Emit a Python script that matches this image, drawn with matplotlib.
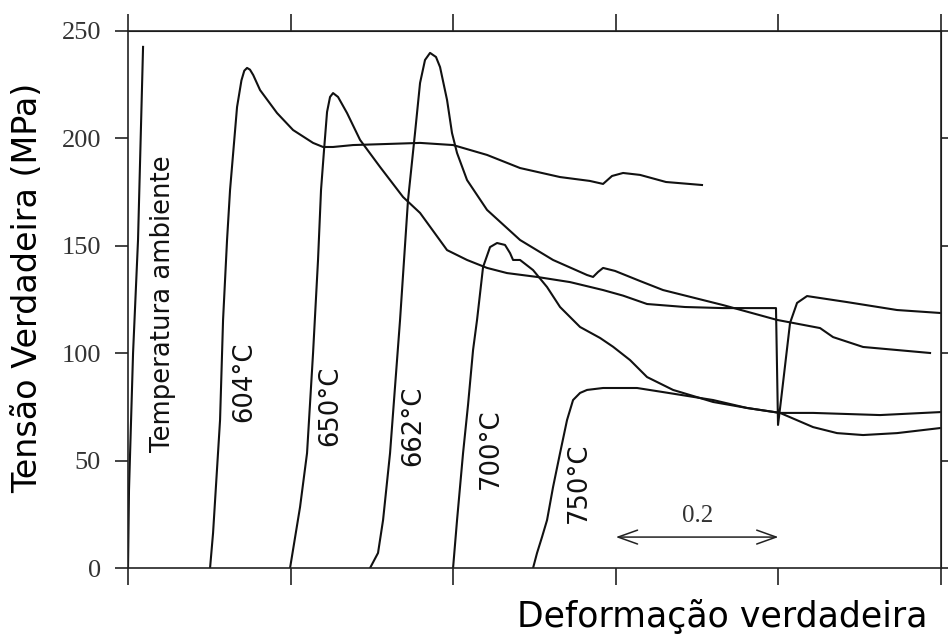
import matplotlib
matplotlib.use('Agg')
import matplotlib.pyplot as plt

# Curvas tensão-deformação (deformação deslocada para cada temperatura)
amb_def = [0.0, 0.0012, 0.0062, 0.0123, 0.0185]
amb_ten = [0.0, 36.3, 100.1, 152.7, 242.6]

t604_def = [0.1009, 0.1046, 0.1132, 0.1169, 0.1218, 0.1255, 0.1341, 0.1395, 0.1430, 0.1464,
            0.1500, 0.1540, 0.1624, 0.1833, 0.2030, 0.2276, 0.2399, 0.2522, 0.2768, 0.3186,
            0.3592, 0.3998, 0.4416, 0.4822, 0.5314, 0.5680, 0.5843, 0.5953, 0.6089, 0.6298,
            0.6617, 0.7060]
t604_ten = [0.0, 16.3, 68.9, 115.5, 152.7, 176.0, 214.6, 227.0, 231.5, 232.8,
            232.0, 229.5, 222.5, 211.8, 203.9, 197.9, 196.0, 196.0, 196.9, 197.4,
            197.9, 196.9, 192.3, 186.2, 182.0, 180.2, 178.8, 182.5, 183.9, 183.0,
            179.7, 178.3]

t650_def = [0.1993, 0.2116, 0.2202, 0.2276, 0.2337, 0.2374, 0.2411, 0.2448, 0.2485, 0.2522,
            0.2583, 0.2694, 0.2854, 0.3100, 0.3383, 0.3592, 0.3924, 0.4170, 0.4416, 0.4662,
            0.5031, 0.5437, 0.5843, 0.6089, 0.6384, 0.6851, 0.7319, 0.7970, 0.7995, 0.8032,
            0.8143, 0.8229, 0.8352, 0.8844, 0.9459, 1.0]
t650_ten = [0.0, 28.4, 53.5, 100.1, 143.4, 176.0, 194.6, 212.3, 219.3, 221.1,
            219.3, 211.8, 199.3, 186.7, 172.7, 165.3, 148.0, 143.4, 139.7, 137.3,
            135.5, 133.1, 129.4, 126.8, 122.9, 121.5, 121.0, 121.0, 66.6, 78.2,
            114.1, 123.4, 126.6, 123.8, 120.1, 118.7]

t662_def = [0.2977, 0.3075, 0.3137, 0.3223, 0.3284, 0.3346, 0.3444, 0.3530, 0.3592, 0.3653,
            0.3715, 0.3788, 0.3838, 0.3924, 0.3985, 0.4047, 0.4170, 0.4416, 0.4822, 0.5228,
            0.5646, 0.5720, 0.5781, 0.5843, 0.5990, 0.6298, 0.6581, 0.7319, 0.7983, 0.8512,
            0.8672, 0.9041, 0.9865]
t662_ten = [0.0, 7.0, 22.3, 53.5, 84.3, 115.5, 171.3, 202.5, 225.8, 236.5,
            239.8, 237.9, 233.2, 217.9, 202.5, 193.2, 180.6, 166.7, 152.7, 143.4,
            136.4, 135.5, 137.8, 139.7, 138.3, 133.6, 129.4, 122.4, 115.5, 111.7,
            107.5, 102.9, 100.1]

t700_def = [0.3998, 0.4047, 0.4121, 0.4182, 0.4244, 0.4293, 0.4367, 0.4453, 0.4539, 0.4637,
            0.4699, 0.4736, 0.4822, 0.4982, 0.5154, 0.5314, 0.5560, 0.5806, 0.5966, 0.6175,
            0.6384, 0.6704, 0.7196, 0.7614, 0.8020, 0.8426, 0.8721, 0.9041, 0.9459, 1.0]
t700_ten = [0.0, 22.3, 53.5, 75.9, 101.5, 115.5, 140.1, 149.4, 151.3, 150.4,
            146.6, 143.4, 143.4, 138.7, 130.8, 121.5, 112.2, 107.1, 103.0, 96.8,
            88.9, 82.9, 77.3, 74.5, 72.2, 65.6, 62.8, 61.9, 62.8, 65.2]

t750_def = [0.4982, 0.5031, 0.5092, 0.5154, 0.5228, 0.5314, 0.5400, 0.5474, 0.5560, 0.5646,
            0.5843, 0.6261, 0.6581, 0.7196, 0.7614, 0.8020, 0.8426, 0.9250, 1.0]
t750_ten = [0.0, 7.0, 14.4, 22.3, 37.7, 53.5, 68.9, 78.2, 81.5, 82.9,
            83.8, 83.8, 81.9, 78.2, 74.5, 72.2, 72.2, 71.2, 72.6]

curvas = [(amb_def, amb_ten), (t604_def, t604_ten), (t650_def, t650_ten),
          (t662_def, t662_ten), (t700_def, t700_ten), (t750_def, t750_ten)]

# Rótulos das curvas: texto, deformação, tensão
rotulos = ['Temperatura ambiente', '604°C', '650°C', '662°C', '700°C', '750°C']
rotulos_x = [0.043, 0.1427, 0.2485, 0.3506, 0.4465, 0.5548]
rotulos_y = [122.9, 86.6, 75.4, 66.3, 55.4, 39.6]

ticks_y = [0, 50, 100, 150, 200, 250]
ticks_x = [0.0, 0.2, 0.4, 0.6, 0.8, 1.0]


def graficar():
    fig = plt.figure(figsize=(9.49, 6.35), dpi=100)
    ax = fig.add_axes([0.1349, 0.1055, 0.8567, 0.8457])

    for d, t in curvas:
        ax.plot(d, t, color='#111111', lw=1.5, solid_joinstyle='round')

    for txt, x, y in zip(rotulos, rotulos_x, rotulos_y):
        ax.text(x, y, txt, rotation=90, ha='center', va='center',
                fontsize=18.6, family='DejaVu Sans', color='#111111')

    # Escala de 0.2 de deformação
    ax.annotate('', xy=(0.6, 14.4), xytext=(0.8, 14.4),
                arrowprops=dict(arrowstyle='<->,head_length=0.7,head_width=0.25',
                                mutation_scale=20, color='#222222', lw=1.1,
                                shrinkA=0, shrinkB=0))
    ax.text(0.7, 24.0, '0.2', ha='center', va='center', fontsize=18,
            family='Liberation Serif', color='#333333')

    ax.set_xlim(0, 1.0)
    ax.set_ylim(0, 250)
    ax.set_xticks(ticks_x)
    ax.set_xticklabels([])
    ax.set_yticks(ticks_y)
    ax.set_yticklabels([str(v) for v in ticks_y], family='Liberation Serif',
                       fontsize=19, color='#333333')
    ax.tick_params(axis='x', direction='out', length=12, width=1.2, color='#222222')
    ax.tick_params(axis='y', direction='out', length=9.5, width=1.2, pad=10,
                   color='#222222')
    for s in ax.spines.values():
        s.set_color('#222222')
        s.set_linewidth(1.2)

    topo = ax.secondary_xaxis('top')
    topo.set_xticks(ticks_x)
    topo.set_xticklabels([])
    topo.tick_params(direction='out', length=12, width=1.2, color='#222222')
    direita = ax.secondary_yaxis('right')
    direita.set_yticks(ticks_y)
    direita.set_yticklabels([])
    direita.tick_params(direction='out', length=5, width=1.2, color='#222222')

    fig.text(0.761, 0.0126, 'Deformação verdadeira', ha='center', va='baseline',
             fontsize=25, family='DejaVu Sans', color='black')
    fig.text(0.0295, 0.5465, 'Tensão Verdadeira (MPa)', ha='center', va='center',
             rotation=90, fontsize=24, family='DejaVu Sans', color='black')

    fig.savefig('out.png', dpi=100)


if __name__ == '__main__':
    graficar()
